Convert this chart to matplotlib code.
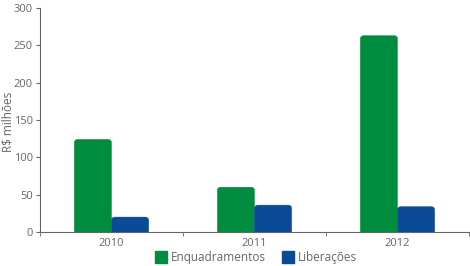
import matplotlib.pyplot as plt
from matplotlib.patches import FancyBboxPatch
from matplotlib.lines import Line2D

years = ["2010", "2011", "2012"]
enquadramentos = [124, 60, 263]
liberacoes = [20, 36, 34]

green = "#008C3E"
blue = "#0B4A96"
gray = "#666666"

plt.rcParams["font.family"] = ["Open Sans", "DejaVu Sans"]

fig = plt.figure(figsize=(4.7, 2.66), dpi=100)
ax = fig.add_axes([40 / 470, 1 - 232 / 266, 429 / 470, 224 / 266])

x = list(range(len(years)))
w = 0.26
bars_g = ax.bar([i - w / 2 for i in x], enquadramentos, w, color=green)
bars_b = ax.bar([i + w / 2 for i in x], liberacoes, w, color=blue)

# swap plain bars for rounded ones (bottom pushed below the axis and clipped)
for bars in (bars_g, bars_b):
    for b in bars:
        bx, by = b.get_x(), b.get_y()
        bw, bh = b.get_width(), b.get_height()
        col = b.get_facecolor()
        b.set_visible(False)
        p = FancyBboxPatch((bx, by - 10), bw, bh + 10,
                           boxstyle="round,pad=0,rounding_size=0.025",
                           mutation_aspect=190, facecolor=col,
                           edgecolor=col, linewidth=0.3, clip_on=True)
        ax.add_patch(p)

ax.set_xlim(-0.5, 2.5)
ax.set_ylim(0, 300)
ax.set_yticks([0, 50, 100, 150, 200, 250, 300])
ax.set_xticks(x)
ax.set_xticklabels(years)
ax.set_xticks([-0.5, 0.5, 1.5, 2.5], minor=True)
ax.tick_params(axis="x", which="major", length=0, pad=4, labelsize=8, labelcolor=gray)
ax.tick_params(axis="x", which="minor", length=3, color=gray)
ax.tick_params(axis="y", length=3, color=gray, labelsize=8, labelcolor=gray, pad=2)

for s in ("top", "right"):
    ax.spines[s].set_visible(False)
for s in ("left", "bottom"):
    ax.spines[s].set_color(gray)
    ax.spines[s].set_linewidth(0.8)

ax.set_ylabel("R$ milhões", fontsize=8.5, color=gray)
ax.yaxis.set_label_coords(-25.5 / 429, 0.49)

handles = [
    Line2D([], [], marker="s", linestyle="none", markersize=8, color=green),
    Line2D([], [], marker="s", linestyle="none", markersize=8, color=blue),
]
fig.legend(handles, ["Enquadramentos", "Liberações"], loc="center",
           bbox_to_anchor=(256 / 470, 1 - 258 / 266), ncol=2, frameon=False,
           fontsize=8.5, labelcolor=gray, handletextpad=0.3, columnspacing=1.4,
           handlelength=1.0, borderpad=0)

fig.savefig("out.png", dpi=100)
